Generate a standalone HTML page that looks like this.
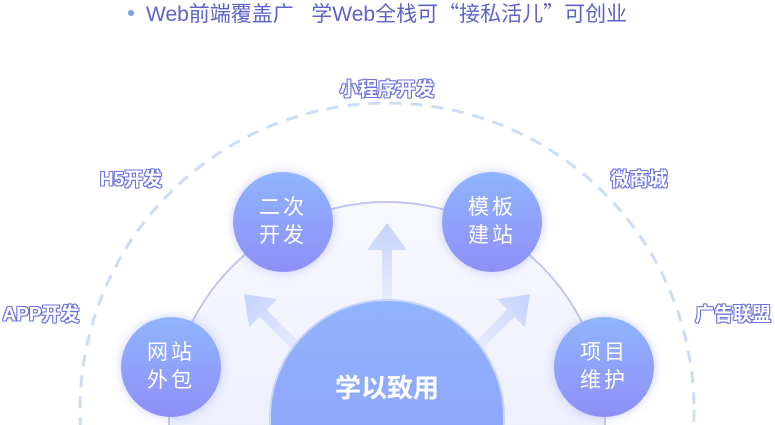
<!DOCTYPE html>
<html><head><meta charset="utf-8"><style>
html,body{margin:0;width:775px;height:425px;overflow:hidden}
body{background:#fff;font-family:"Liberation Sans","Noto Sans CJK SC",sans-serif;position:relative}
.t{position:absolute;left:128px;top:1px;font-size:21px;color:#5d63c8;white-space:nowrap;line-height:24px}
.t b{display:inline-block;width:6px;height:6px;border-radius:50%;background:#7c9ef0;vertical-align:middle;margin-right:12px;position:relative;top:-2px}
.q{font-family:"Noto Sans CJK SC",sans-serif}
.lb{position:absolute;font-size:19px;font-weight:bold;color:#fff;white-space:nowrap;transform:translate(-50%,-50%);
text-shadow:1px 0 0 #6b72e0,-1px 0 0 #6b72e0,0 1px 0 #6b72e0,0 -1px 0 #6b72e0,1px 1px 0 #6b72e0,-1px -1px 0 #6b72e0,1px -1px 0 #6b72e0,-1px 1px 0 #6b72e0}
.c{position:absolute;width:100px;height:100px;border-radius:50%;background:linear-gradient(#8fb5fd,#8f8ff7);color:#fff;font-size:21px;line-height:28px;text-align:center;display:flex;align-items:center;justify-content:center;letter-spacing:3px;box-shadow:0 0 10px rgba(140,150,240,.45);transform:translate(-50%,-50%)}
</style></head><body>
<div class="t"><b></b>Web前端覆盖广&nbsp;&nbsp;&nbsp;学Web全栈可<span class="q">“</span>接私活儿<span class="q">”</span>可创业</div>
<svg width="775" height="425" style="position:absolute;left:0;top:0">
<defs>
<linearGradient id="ig" x1="0" y1="0" x2="0" y2="1"><stop offset="0" stop-color="#f8f9ff"/><stop offset="1" stop-color="#e3e6fb"/></linearGradient>
<linearGradient id="cg" x1="0" y1="0" x2="0" y2="1"><stop offset="0" stop-color="#90b4fd"/><stop offset="1" stop-color="#8f9af8"/></linearGradient>
<linearGradient id="au" x1="0" y1="1" x2="0" y2="0"><stop offset="0" stop-color="#c9d4fb" stop-opacity="0.3"/><stop offset="1" stop-color="#c2d2fc"/></linearGradient>
</defs>
<circle cx="387" cy="410" r="307" fill="none" stroke="#cddcf5" stroke-width="3" stroke-dasharray="12 9"/>
<circle cx="387" cy="420" r="218" fill="url(#ig)" stroke="#c3c4f3" stroke-width="2"/>
<g fill="url(#au)">
<polygon transform="translate(387,300)" points="-5,0 5,0 5,-50 20,-50 0,-77 -20,-50 -5,-50"/>
<polygon transform="translate(295,345) rotate(-45)" points="-5,0 5,0 5,-45 20,-45 0,-72 -20,-45 -5,-45"/>
<polygon transform="translate(479,345) rotate(45)" points="-5,0 5,0 5,-45 20,-45 0,-72 -20,-45 -5,-45"/>
</g>
<circle cx="387" cy="417" r="117" fill="url(#cg)" stroke="#c8d4fb" stroke-width="2"/>
<text x="387" y="397" font-size="26" font-weight="bold" fill="#fff" text-anchor="middle" font-family="Liberation Sans,Noto Sans CJK SC,sans-serif">学以致用</text>
</svg>
<div class="c" style="left:283px;top:222px">二次<br>开发</div>
<div class="c" style="left:492px;top:222px">模板<br>建站</div>
<div class="c" style="left:171px;top:367px">网站<br>外包</div>
<div class="c" style="left:604px;top:367px">项目<br>维护</div>
<div class="lb" style="left:387px;top:88px">小程序开发</div>
<div class="lb" style="left:131px;top:178px">H5开发</div>
<div class="lb" style="left:639px;top:178px">微商城</div>
<div class="lb" style="left:41px;top:313px">APP开发</div>
<div class="lb" style="left:733px;top:313px">广告联盟</div>
</body></html>
